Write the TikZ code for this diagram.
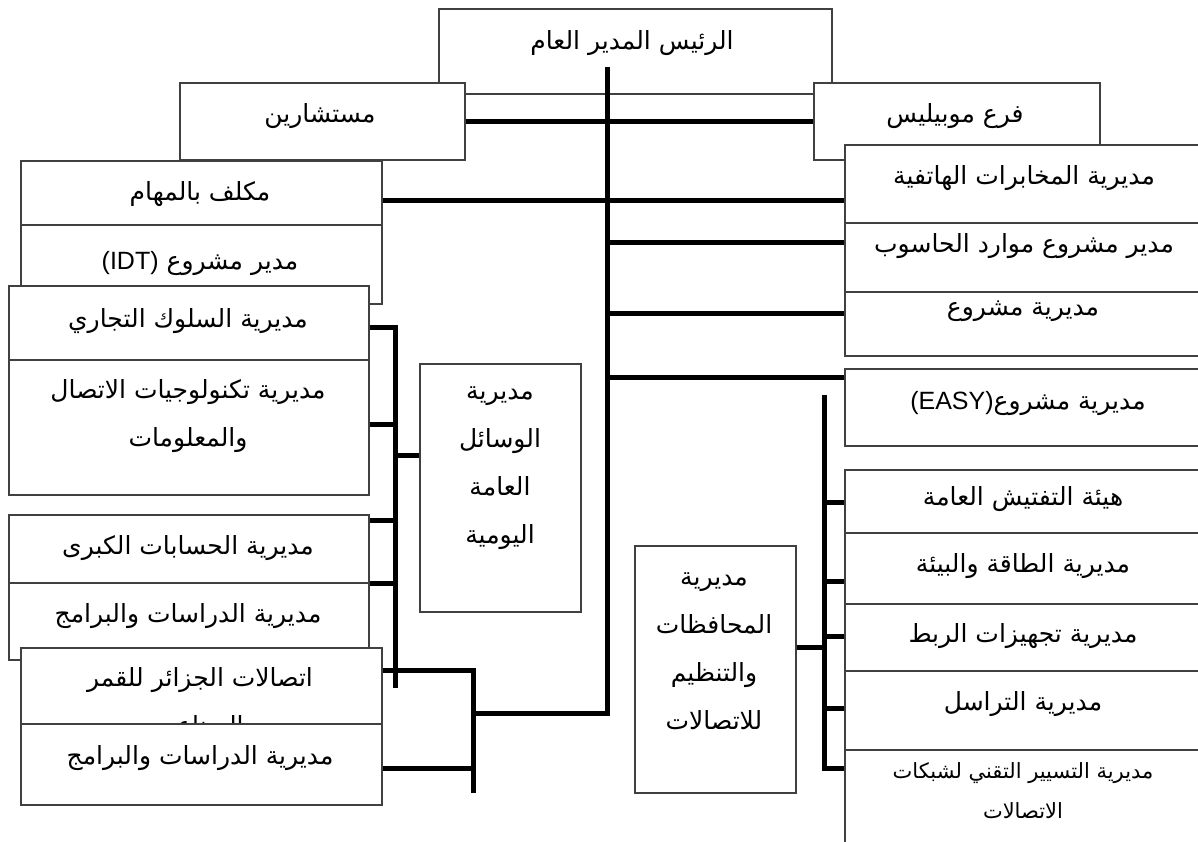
\documentclass[tikz,border=0pt]{standalone}
\usepackage{fontspec}
\setmainfont{DejaVu Sans}
\newfontfamily\arabicfont[Script=Arabic]{DejaVu Sans}
\newfontfamily\latinfont{Liberation Sans}
\TeXXeTstate=1
\newcommand{\artx}[1]{{\arabicfont\beginR #1\endR}}

\begin{document}
\begin{tikzpicture}[x=1pt, y=-1pt,
		box/.style={draw=black!75, line width=1.5pt, fill=white, rectangle, anchor=north west, inner sep=0pt},
		txt/.style={font=\fontsize{25}{48}\selectfont, align=center, inner sep=0pt},
		small/.style={font=\fontsize{21}{40}\selectfont},
		link/.style={line width=5pt}]
			\useasboundingbox (0,0) rectangle (1198,841);
			\clip (0,0) rectangle (1198,841);
			\fill[white] (0,0) rectangle (1198,841);

			\node[box, minimum width=393pt, minimum height=85pt] (raees) at (438,8) {};
			\node[txt] (raeesT) at (632,43) {\artx{الرئيس المدير العام}};
			\node[box, minimum width=285pt, minimum height=77pt] (mostashar) at (179,82) {};
			\node[txt] (mostasharT) at (320,116) {\artx{مستشارين}};
			\node[box, minimum width=286pt, minimum height=77pt] (mobilis) at (813,82) {};
			\node[txt] (mobilisT) at (955,116) {\artx{فرع موبيليس}};

			\node[box, minimum width=361pt, minimum height=64pt] (mokallaf) at (20,160) {};
			\node[txt] (mokallafT) at (200,194) {\artx{مكلف بالمهام}};
			\node[box, minimum width=361pt, minimum height=79pt] (idt) at (20,224) {};
			\node[txt] (idtT) at (200,263) {\artx{مدير مشروع \beginL{\latinfont(IDT)}\endL}};
			\node[box, minimum width=360pt, minimum height=74pt] (suluk) at (8,285) {};
			\node[txt] (sulukT) at (188,321) {\artx{مديرية السلوك التجاري}};
			\node[box, minimum width=360pt, minimum height=135pt] (tech) at (8,359) {};
			\node[txt] (techT) at (188,416) {\artx{مديرية تكنولوجيات الاتصال}\\\artx{والمعلومات}};
			\node[box, minimum width=360pt, minimum height=68pt] (hisabat) at (8,514) {};
			\node[txt] (hisabatT) at (188,548) {\artx{مديرية الحسابات الكبرى}};
			\node[box, minimum width=360pt, minimum height=77pt] (dirasat1) at (8,582) {};
			\node[txt] (dirasat1T) at (188,616) {\artx{مديرية الدراسات والبرامج}};
			\node[box, minimum width=361pt, minimum height=76pt] (qamar) at (20,647) {};
			\node[txt] (qamarT) at (200,704) {\artx{اتصالات الجزائر للقمر}\\\artx{الصناعي}};
			\node[box, minimum width=361pt, minimum height=81pt] (dirasat2) at (20,723) {};
			\node[txt] (dirasat2T) at (200,758) {\artx{مديرية الدراسات والبرامج}};

			\node[box, minimum width=161pt, minimum height=248pt] (wasail) at (419,363) {};
			\node[txt] (wasailT) at (500,468) {\artx{مديرية}\\\artx{الوسائل}\\\artx{العامة}\\\artx{اليومية}};

			\node[box, minimum width=380pt, minimum height=78pt] (mukhabarat) at (844,144) {};
			\node[txt] (mukhabaratT) at (1024,178) {\artx{مديرية المخابرات الهاتفية}};
			\node[box, minimum width=380pt, minimum height=69pt] (hasoub) at (844,222) {};
			\node[txt] (hasoubT) at (1024,246) {\artx{مدير مشروع موارد الحاسوب}};
			\node[box, minimum width=380pt, minimum height=64pt] (mashrou) at (844,291) {};
			\node[txt] (mashrouT) at (1023,311) {\artx{مديرية مشروع}};
			\node[box, minimum width=380pt, minimum height=77pt] (easy) at (844,368) {};
			\node[txt] (easyT) at (1028,403) {\artx{مديرية مشروع\beginL{\latinfont(EASY)}\endL}};
			\node[box, minimum width=380pt, minimum height=63pt] (taftish) at (844,469) {};
			\node[txt] (taftishT) at (1023,499) {\artx{هيئة التفتيش العامة}};
			\node[box, minimum width=380pt, minimum height=71pt] (taqa) at (844,532) {};
			\node[txt] (taqaT) at (1023,566) {\artx{مديرية الطاقة والبيئة}};
			\node[box, minimum width=380pt, minimum height=67pt] (rabt) at (844,603) {};
			\node[txt] (rabtT) at (1023,636) {\artx{مديرية تجهيزات الربط}};
			\node[box, minimum width=380pt, minimum height=79pt] (tarasol) at (844,670) {};
			\node[txt] (tarasolT) at (1023,704) {\artx{مديرية التراسل}};
			\node[box, minimum width=380pt, minimum height=110pt] (tasyir) at (844,749) {};
			\node[txt, small] (tasyirT) at (1023,791) {\artx{مديرية التسيير التقني لشبكات}\\\artx{الاتصالات}};

			\node[box, minimum width=161pt, minimum height=247pt] (mohafazat) at (634,545) {};
			\node[txt] (mohafazatT) at (714,651) {\artx{مديرية}\\\artx{المحافظات}\\\artx{والتنظيم}\\\artx{للاتصالات}};

			\coordinate (ttop) at (607,67);
			\coordinate (tbot) at (607,713);
			\coordinate (b1) at (607,200);
			\coordinate (b2) at (607,242);
			\coordinate (b3) at (607,313);
			\coordinate (b4) at (607,377);
			\coordinate (l1) at (395,327);
			\coordinate (l2) at (395,688);
			\coordinate (q1) at (473,670);
			\coordinate (q2) at (473,793);
			\coordinate (r1) at (824,395);
			\coordinate (r2) at (824,768);

			\draw[link] (mostashar.east) -- (mobilis.west);
			\draw[link] (mokallaf.east|-b1) -- (mukhabarat.west|-b1);
			\draw[link] (b2) -- (hasoub.west|-b2);
			\draw[link] (b3) -- (mashrou.west|-b3);
			\draw[link] (b4) -- (easy.west|-b4);
			\draw[link] (q1|-tbot) -- (tbot) -- (ttop);

			\draw[link] (suluk.east|-l1) -- (l1) -- (l2);
			\foreach \n/\y in {tech/424, hisabat/520, dirasat1/583}
				\draw[link] (\n.east|-0,\y) -- (l1|-0,\y);
			\draw[link] (l1|-0,455) -- (wasail.west|-0,455);

			\draw[link] (qamar.east|-q1) -- (q1) -- (q2);
			\draw[link] (dirasat2.east|-0,768) -- (q1|-0,768);

			\draw[link] (r1) -- (r2) -- (tasyir.west|-r2);
			\foreach \n/\y in {taftish/502, taqa/581, rabt/636, tarasol/708}
				\draw[link] (r1|-0,\y) -- (\n.west|-0,\y);
			\draw[link] (mohafazat.east|-0,647) -- (r1|-0,647);
		\end{tikzpicture}
\end{document}
